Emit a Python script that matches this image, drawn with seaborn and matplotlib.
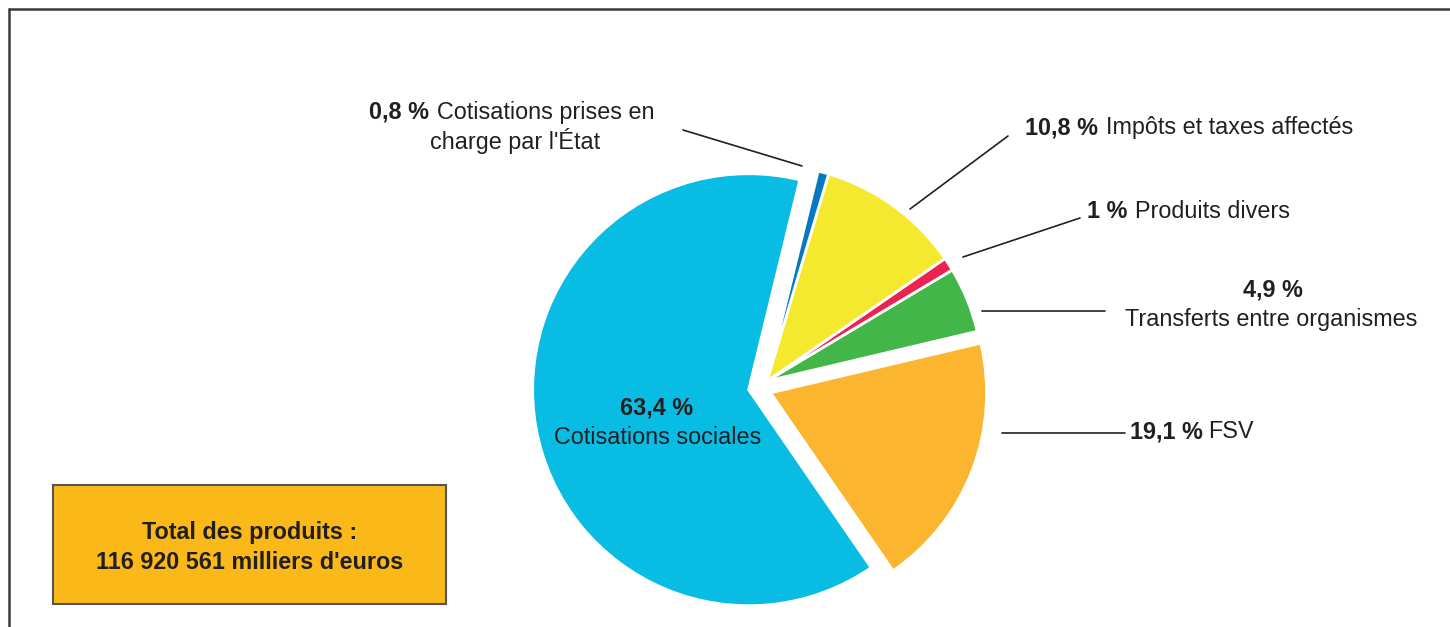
import numpy as np
import seaborn as sns
import matplotlib.pyplot as plt
from matplotlib.patches import Rectangle

sns.set_theme(style='white')
plt.rcParams['font.family'] = ['Liberation Sans', 'DejaVu Sans']

# données (ordre de tracé, sens anti-horaire à partir des cotisations sociales)
categories = ['Cotisations sociales', 'FSV', 'Transferts entre organismes',
              'Produits divers', 'Impôts et taxes affectés',
              "Cotisations prises en charge par l'État"]
parts = [63.4, 19.1, 4.9, 1.0, 10.8, 0.8]
pct_labels = ['63,4 %', '19,1 %', '4,9 %', '1 %', '10,8 %', '0,8 %']
colors = ['#08BCE3', '#FBB52F', '#43B649', '#EC2250', '#F5E92F', '#0479C0']
explode = [9.5, 13.5, 0, 0, 0, 0]  # en pixels (unités de l'axe)
group_shift = (9, -7)  # les petites parts sont décalées ensemble
total_text = "Total des produits :\n116 920 561 milliers d'euros"

W, H = 1450, 627
fig = plt.figure(figsize=(W / 100, H / 100), dpi=100)
ax = fig.add_axes([0, 0, 1, 1])

# axe en pixels, y vers le bas -> sens inversé pour garder l'aspect visuel
cx, cy = 758, 388
wedges, _ = ax.pie(parts, colors=colors, explode=explode, center=(cx, cy), radius=216,
                   startangle=-76.3, counterclock=False,
                   wedgeprops=dict(edgecolor='white', linewidth=2))
for w in wedges[2:]:
    x0, y0 = w.center
    w.set_center((x0 + group_shift[0], y0 + group_shift[1]))

ax.set_xlim(0, W)
ax.set_ylim(H, 0)
ax.set_aspect('equal')
ax.axis('off')

fs = 16.8
tc = '#231f20'

def two_part(x_b, x_r, y, bold, regular):
    ax.text(x_b, y, bold, fontsize=fs, fontweight='bold', color=tc, ha='left', va='baseline')
    ax.text(x_r, y, regular, fontsize=fs, color=tc, ha='left', va='baseline')

# étiquettes
two_part(369, 437, 119, pct_labels[5], 'Cotisations prises en')
ax.text(515, 149, "charge par l'État", fontsize=fs, color=tc, ha='center', va='baseline')
two_part(1025, 1106, 134, pct_labels[4], categories[4])
two_part(1087, 1135, 218, pct_labels[3], categories[3])
ax.text(1273, 297, pct_labels[2], fontsize=fs, fontweight='bold', color=tc, ha='center', va='baseline')
ax.text(1271, 326, categories[2], fontsize=fs, color=tc, ha='center', va='baseline')
two_part(1130, 1208, 438, pct_labels[1], categories[1])
ax.text(657, 414, pct_labels[0], fontsize=fs, fontweight='bold', color=tc, ha='center', va='baseline')
ax.text(658, 444, categories[0], fontsize=fs, color=tc, ha='center', va='baseline')

# traits de rappel
leaders = [((683, 802), (130, 166)), ((1008, 910), (136, 209)),
           ((1080, 963), (218, 257)), ((982, 1105), (311, 311)),
           ((1002, 1125), (433, 433))]
for xs, ys in leaders:
    ax.plot(xs, ys, color=tc, lw=1.2)

# cadre
ax.plot([9, 9], [H, 9], color='#3a3a3a', lw=1.8)
ax.plot([9, W], [9, 9], color='#3a3a3a', lw=1.8)

# encadré total
ax.add_patch(Rectangle((53, 485), 393, 119, facecolor='#FBB919', edgecolor='#555555', lw=1.5))
lines = total_text.split('\n')
ax.text(250, 539, lines[0], fontsize=fs, fontweight='bold', color=tc, ha='center', va='baseline')
ax.text(250, 569, lines[1], fontsize=fs, fontweight='bold', color=tc, ha='center', va='baseline')

fig.savefig('out.png', dpi=100)
